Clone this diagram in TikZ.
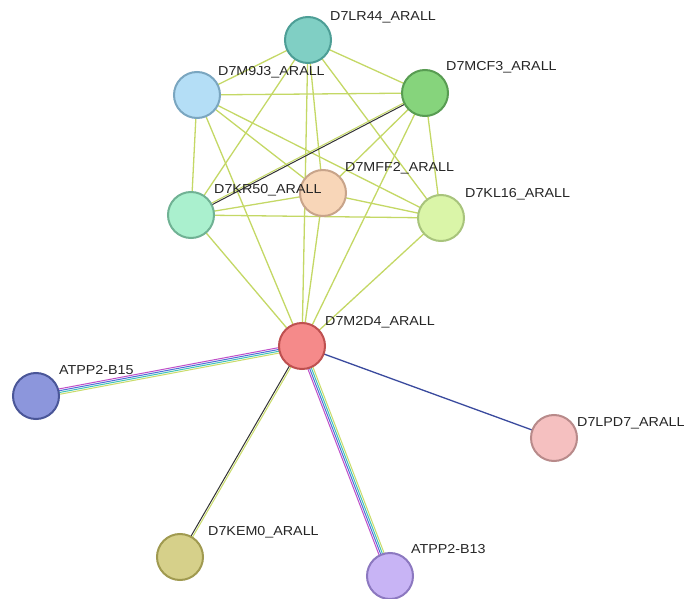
\documentclass[tikz,border=0pt]{standalone}
\usepackage{fontspec}
\setmainfont[FakeStretch=1.1]{Liberation Sans}
\usetikzlibrary{calc,backgrounds}
\definecolor{tm}{HTML}{C4D865}
\definecolor{blk}{HTML}{333333}
\definecolor{navy}{HTML}{3A4A9E}
\definecolor{mag}{HTML}{C04FC8}
\definecolor{eblue}{HTML}{4F6FD8}
\definecolor{ecyan}{HTML}{3FC3B8}
\definecolor{eyel}{HTML}{C9DC6A}
\tikzset{
  prot/.style={circle, minimum size=46pt, inner sep=0pt, line width=2pt},
  lbl/.style={anchor=base west, inner sep=0pt, text=black!85, font=\fontsize{13}{15}\selectfont},
  edge/.style={line width=1.3pt},
  thinedge/.style={line width=1.0pt},
}
\newcommand{\multiedge}[3]{%
  \foreach \cc/\oo in {#3} {%
    \draw[thinedge, draw=\cc] ($(#1.center)!\oo pt!90:(#2.center)$) -- ($(#2.center)!\oo pt!-90:(#1.center)$);
  }%
}
\begin{document}
\begin{tikzpicture}[x=1pt, y=-1pt]
\useasboundingbox (0,0) rectangle (686,599);
% proteins
\node[prot, fill={rgb,255:red,128;green,207;blue,196}, draw={rgb,255:red,77;green,158;blue,150}] (lr44) at (308,40) {};
\node[prot, fill={rgb,255:red,180;green,222;blue,246}, draw={rgb,255:red,122;green,166;blue,192}] (m9j3) at (197,95) {};
\node[prot, fill={rgb,255:red,134;green,212;blue,124}, draw={rgb,255:red,88;green,156;blue,82}] (mcf3) at (425,93) {};
\node[prot, fill={rgb,255:red,170;green,240;blue,206}, draw={rgb,255:red,112;green,178;blue,148}] (kr50) at (191,215) {};
\node[prot, fill={rgb,255:red,248;green,214;blue,184}, draw={rgb,255:red,200;green,164;blue,138}] (mff2) at (323,193) {};
\node[prot, fill={rgb,255:red,218;green,245;blue,168}, draw={rgb,255:red,168;green,196;blue,124}] (kl16) at (441,218) {};
\node[prot, fill={rgb,255:red,245;green,138;blue,138}, draw={rgb,255:red,190;green,80;blue,80}] (m2d4) at (302,346) {};
\node[prot, fill={rgb,255:red,140;green,150;blue,220}, draw={rgb,255:red,74;green,86;blue,152}] (b15) at (36,396) {};
\node[prot, fill={rgb,255:red,245;green,192;blue,192}, draw={rgb,255:red,184;green,138;blue,138}] (lpd7) at (554,438) {};
\node[prot, fill={rgb,255:red,214;green,208;blue,138}, draw={rgb,255:red,160;green,154;blue,80}] (kem0) at (180,557) {};
\node[prot, fill={rgb,255:red,200;green,180;blue,245}, draw={rgb,255:red,140;green,120;blue,192}] (b13) at (390,576) {};
% labels
\node[lbl] (tlr44) at (330,21) {D7LR44\_ARALL};
\node[lbl] (tm9j3) at (218,76) {D7M9J3\_ARALL};
\node[lbl] (tmcf3) at (446,71) {D7MCF3\_ARALL};
\node[lbl] (tmff2) at (345,172) {D7MFF2\_ARALL};
\node[lbl] (tkr50) at (214,194) {D7KR50\_ARALL};
\node[lbl] (tkl16) at (465,198) {D7KL16\_ARALL};
\node[lbl] (tm2d4) at (325,325) {D7M2D4\_ARALL};
\node[lbl] (tb15) at (59,374) {ATPP2-B15};
\node[lbl] (tlpd7) at (577,426) {D7LPD7\_ARALL};
\node[lbl] (tkem0) at (208,535) {D7KEM0\_ARALL};
\node[lbl] (tb13) at (411,553) {ATPP2-B13};
% edges
\begin{pgfonlayer}{background}
\fill[white] (0,0) rectangle (686,599);
\foreach \a/\b in {lr44/m9j3, lr44/mcf3, lr44/kr50, lr44/mff2, lr44/kl16, lr44/m2d4,
  m9j3/mcf3, m9j3/kr50, m9j3/mff2, m9j3/kl16, m9j3/m2d4,
  mcf3/mff2, mcf3/kl16, mcf3/m2d4,
  kr50/mff2, kr50/kl16, kr50/m2d4,
  mff2/kl16, mff2/m2d4, kl16/m2d4} {
  \draw[edge, tm] (\a.center) -- (\b.center);
}
\multiedge{kr50}{mcf3}{tm/1.0, blk/-0.6}
\multiedge{m2d4}{b15}{mag/-2.7, eblue/-0.9, ecyan/0.9, eyel/2.7}
\multiedge{m2d4}{b13}{mag/-2.7, eblue/-0.9, ecyan/0.9, eyel/2.7}
\multiedge{m2d4}{kem0}{blk/-0.9, eyel/0.9}
\draw[edge, navy] (m2d4.center) -- (lpd7.center);
\end{pgfonlayer}
\end{tikzpicture}
\end{document}
